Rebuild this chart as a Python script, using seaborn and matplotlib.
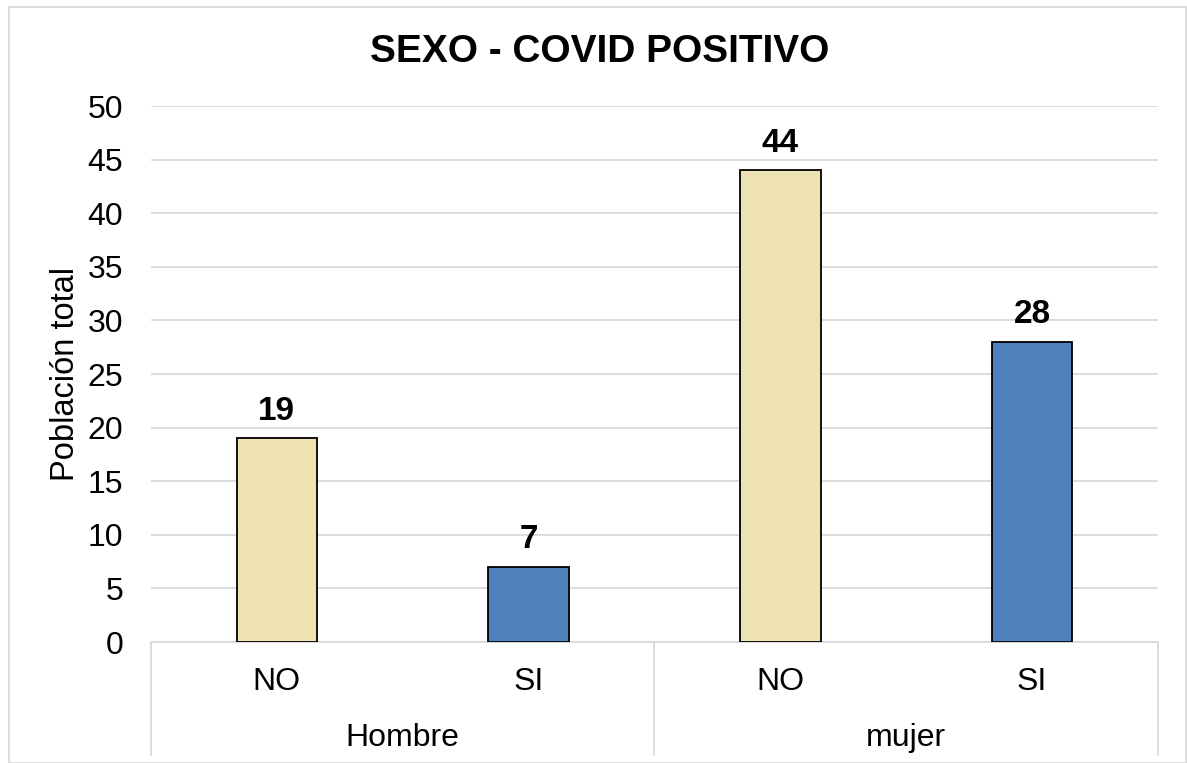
import matplotlib
matplotlib.use("Agg")
import matplotlib.pyplot as plt
import seaborn as sns
import pandas as pd
from matplotlib.patches import Rectangle
from matplotlib.lines import Line2D

# Data
groups = ["Hombre", "mujer"]
sub_labels = ["NO", "SI", "NO", "SI"]
values = [19, 7, 44, 28]
colors = ["#EEE2B3", "#4F81BD", "#EEE2B3", "#4F81BD"]
title = "SEXO - COVID POSITIVO"
ylabel = "Población total"

cats = [f"{g}-{s}" for g in groups for s in ["NO", "SI"]]
df = pd.DataFrame({"cat": cats, "val": values})

sns.set_theme(style="white")
plt.rcParams["font.family"] = ["Liberation Sans", "DejaVu Sans"]
plt.rcParams["text.color"] = "black"
plt.rcParams["axes.labelcolor"] = "black"
plt.rcParams["xtick.color"] = "black"
plt.rcParams["ytick.color"] = "black"

W, H = 1187, 763
fig = plt.figure(figsize=(W / 100, H / 100), dpi=100)
ax = fig.add_axes([151 / W, 1 - 642 / H, (1158 - 151) / W, (642 - 106) / H])

sns.barplot(data=df, x="cat", y="val", hue="cat", palette=colors, order=cats,
            hue_order=cats, legend=False, width=0.32, edgecolor="black",
            linewidth=1.3, saturation=1, ax=ax, zorder=3)

ax.set_ylim(0, 50)
ax.set_yticks(range(0, 51, 5))
ax.set_xlim(-0.5, 3.5)
ax.yaxis.grid(True, color="#D9D9D9", linewidth=1.3, zorder=0)
ax.set_axisbelow(True)
for s in ["top", "right", "left"]:
    ax.spines[s].set_visible(False)
ax.spines["bottom"].set_color("#D9D9D9")
ax.spines["bottom"].set_linewidth(1.3)
ax.tick_params(axis="y", length=0, pad=20, labelsize=23, labelcolor="black")
ax.tick_params(axis="x", length=0, pad=18, labelsize=23, labelcolor="black")
ax.set_xticks(range(4))
ax.set_xticklabels(sub_labels)
ax.set_xlabel("")
ax.set_ylabel(ylabel, fontsize=23.5, labelpad=5, color="black")

for i, v in enumerate(values):
    ax.text(i, v + 1.1, str(v), ha="center", va="bottom", fontsize=24,
            fontweight="bold", color="black")

# multi-level category axis
trans = ax.get_xaxis_transform()
y_bot = -(755 - 642) / (642 - 106)
for xpos in [-0.5, 1.5, 3.5]:
    ax.add_line(Line2D([xpos, xpos], [0, y_bot], transform=trans,
                       color="#D9D9D9", linewidth=1.3, clip_on=False))
for gi, g in enumerate(groups):
    ax.text(gi * 2 + 0.5, -(738 - 642) / (642 - 106), g, transform=trans,
            ha="center", va="center", fontsize=23, color="black")

fig.text(600 / W, 1 - 52 / H, title, ha="center",
         va="center", fontsize=28, fontweight="bold", color="black")

fig.patches.append(Rectangle((9 / W, 0), (1186 - 9) / W, 1 - 7 / H,
                             transform=fig.transFigure, fill=False,
                             edgecolor="#D9D9D9", linewidth=1.3))

fig.savefig("out.png", dpi=100)
